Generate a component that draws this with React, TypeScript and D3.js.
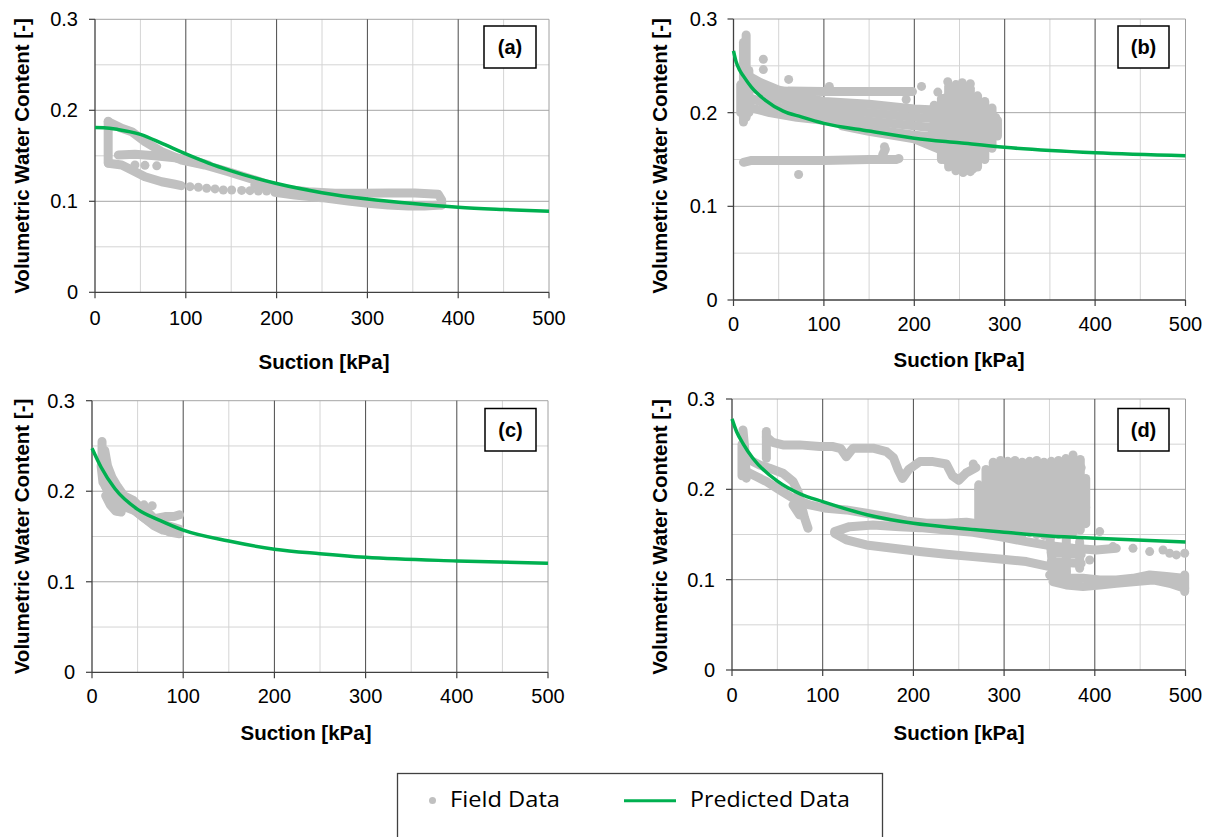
import React from 'react';
import * as d3 from 'd3';

type Pt = [number, number];

// ---------- axis / text content ----------
const xTickValues = [0, 100, 200, 300, 400, 500];
const xMinorValues = [50, 150, 250, 350, 450];
const yTickValues = [0, 0.1, 0.2, 0.3];
const yTickLabels = ['0', '0.1', '0.2', '0.3'];
const yMinorValues = [0.05, 0.15, 0.25];
const panelTags = ['(a)', '(b)', '(c)', '(d)'];
const xTitle = 'Suction [kPa]';
const yTitle = 'Volumetric Water Content [-]';
const legendLabels = ['Field Data', 'Predicted Data'];

// ---------- predicted curves [suction kPa, VWC] ----------
const predictedA: Pt[] = [
  [0, 0.181], [10, 0.1808], [25, 0.179], [50, 0.1735], [75, 0.163], [100, 0.152], [125, 0.142],
  [150, 0.1335], [175, 0.126], [200, 0.1195], [250, 0.1095], [300, 0.1025], [350, 0.0975],
  [400, 0.0935], [450, 0.091], [500, 0.089],
];
const predictedB: Pt[] = [
  [0, 0.266], [3, 0.254], [7, 0.245], [11, 0.239], [20, 0.227], [35, 0.2135], [55, 0.2017],
  [75, 0.1955], [100, 0.1886], [150, 0.1804], [200, 0.1728], [250, 0.1678], [300, 0.163],
  [400, 0.1572], [500, 0.154],
];
const predictedC: Pt[] = [
  [0, 0.2475], [10, 0.2265], [25, 0.203], [50, 0.18], [75, 0.1675], [100, 0.157], [150, 0.145],
  [200, 0.136], [250, 0.131], [300, 0.127], [400, 0.123], [500, 0.1205],
];
const predictedD: Pt[] = [
  [0, 0.278], [5, 0.264], [12, 0.251], [23, 0.2344], [50, 0.209], [75, 0.195], [100, 0.1864],
  [150, 0.1716], [200, 0.1624], [250, 0.157], [300, 0.1525], [350, 0.1484], [400, 0.1458],
  [500, 0.1418],
];

// ---------- field data (dense measurement traces + isolated readings) ----------
const fieldTracksA: Pt[][] = [
  [[14.5, 0.188], [14.5, 0.142]],
  [[14.7, 0.1418], [29.4, 0.1399], [40.4, 0.1344], [55, 0.127], [73.4, 0.1215], [88, 0.1187], [95, 0.1172]],
  [[198, 0.1099], [220, 0.1069], [249.6, 0.104], [279, 0.1003], [301, 0.0978], [323, 0.0959], [345, 0.0948], [363, 0.0948], [381.8, 0.0959]],
  [[176, 0.1179], [205.6, 0.1135], [235, 0.1105], [264.3, 0.1088], [293.7, 0.1088], [323, 0.1092], [352.4, 0.1092], [378, 0.1077], [381.8, 0.1014], [381.8, 0.0959]],
  [[14.7, 0.1875], [29.4, 0.1802], [40.4, 0.1765], [55, 0.1655], [73.4, 0.1545], [95.4, 0.1454], [121, 0.1399], [146.8, 0.1325], [176, 0.1234], [198, 0.116]],
  [[25.7, 0.1509], [44, 0.1516], [66, 0.1501], [88, 0.1479], [110, 0.1443], [124.8, 0.1399]],
];
const fieldDotsA: Pt[] = [
  [104.6, 0.1161], [113.8, 0.1154], [123, 0.1143], [132.2, 0.1136], [141.3, 0.1124], [150.5, 0.1124],
  [161.5, 0.112], [170.7, 0.1117], [179.9, 0.1113], [189, 0.1113], [44, 0.14], [55, 0.1395], [68, 0.139],
];

const fieldTracksB: Pt[][] = [
  [[11, 0.275], [11, 0.19]],
  [[14, 0.283], [14, 0.195]],
  [[17, 0.245], [17, 0.2]],
  [[8, 0.23], [8, 0.2]],
  [[11, 0.147], [20, 0.149], [50, 0.149], [100, 0.149], [150, 0.15], [180, 0.15], [183, 0.151]],
  [[165, 0.155], [168, 0.161]],
  [[37, 0.224], [60, 0.223], [100, 0.2225], [150, 0.2225], [198, 0.2225]],
  [[15, 0.24], [30, 0.232], [50, 0.224], [75, 0.217], [100, 0.212], [150, 0.209], [200, 0.204], [240, 0.202]],
  [[18, 0.228], [40, 0.218], [70, 0.21], [100, 0.205], [150, 0.2], [200, 0.195], [250, 0.192], [290, 0.19]],
  [[20, 0.215], [45, 0.207], [70, 0.201], [100, 0.197], [150, 0.191], [200, 0.186], [250, 0.181], [290, 0.18]],
  [[20, 0.205], [40, 0.2], [70, 0.195], [100, 0.192], [150, 0.183], [200, 0.176], [250, 0.172], [285, 0.17]],
  [[120, 0.186], [150, 0.18], [200, 0.172], [230, 0.16], [250, 0.15], [265, 0.14]],
  [[222, 0.208], [222, 0.165]],
  [[230, 0.215], [230, 0.15]],
  [[238, 0.228], [238, 0.142]],
  [[246, 0.23], [246, 0.138]],
  [[254, 0.228], [254, 0.136]],
  [[262, 0.226], [262, 0.137]],
  [[270, 0.218], [270, 0.142]],
  [[278, 0.212], [278, 0.15]],
  [[286, 0.205], [286, 0.162]],
  [[292, 0.192], [292, 0.175]],
  [[215, 0.196], [250, 0.2], [290, 0.195]],
  [[220, 0.18], [260, 0.182], [292, 0.18]],
  [[226, 0.165], [255, 0.163], [285, 0.168]],
  [[233, 0.15], [255, 0.146], [272, 0.15]],
  [[232, 0.215], [250, 0.22], [268, 0.214]],
];
const fieldDotsB: Pt[] = [
  [72, 0.134], [33, 0.257], [33, 0.246], [61, 0.2355], [106, 0.228], [208, 0.228], [191, 0.214],
  [167, 0.1636], [237, 0.233], [253, 0.232], [262, 0.231], [226, 0.222],
];

const fieldTracksC: Pt[][] = [
  [[11, 0.255], [11, 0.235], [12, 0.22], [15, 0.205], [20, 0.195], [25, 0.185], [28, 0.178]],
  [[14, 0.245], [17, 0.228], [22, 0.215], [28, 0.205], [35, 0.195], [45, 0.19], [50, 0.185], [60, 0.178], [70, 0.168], [80, 0.163], [90, 0.16], [96, 0.158]],
  [[10, 0.228], [12, 0.21], [18, 0.2], [23, 0.19]],
  [[35, 0.185], [45, 0.18], [55, 0.172], [65, 0.165], [75, 0.16], [85, 0.155], [96, 0.153]],
  [[70, 0.17], [80, 0.172], [90, 0.172], [96, 0.174]],
  [[13, 0.235], [16, 0.215], [20, 0.205], [26, 0.198], [32, 0.192], [40, 0.19]],
  [[25, 0.192], [30, 0.185], [38, 0.182], [48, 0.178], [58, 0.17], [68, 0.162], [78, 0.157], [90, 0.155]],
  [[15, 0.195], [20, 0.185], [26, 0.178], [32, 0.177]],
];
const fieldDotsC: Pt[] = [[57, 0.185], [66, 0.184], [60, 0.178]];

const fieldTracksD: Pt[][] = [
  [[12.1, 0.2658], [14, 0.2455], [15.8, 0.2123]],
  [[11, 0.25], [11, 0.215]],
  [[37.9, 0.264], [37.9, 0.2344]],
  [[37.9, 0.258], [45, 0.252], [56.2, 0.2492], [74.6, 0.2492], [96.6, 0.2473], [111.4, 0.2473], [120, 0.245], [126, 0.236], [133.4, 0.2455], [155.5, 0.2455], [170.2, 0.2418], [178, 0.235], [183, 0.222], [188, 0.212], [195, 0.222], [207, 0.2307], [221.6, 0.2307], [236.3, 0.228], [243, 0.215], [250, 0.21], [258, 0.218], [269, 0.224]],
  [[15.8, 0.2344], [30.5, 0.227], [41.5, 0.2233], [56.2, 0.2178], [67.3, 0.2086], [72.8, 0.1975], [76.4, 0.1827], [80.1, 0.168], [83.8, 0.1569]],
  [[67.3, 0.1827], [74.6, 0.1717]],
  [[15.8, 0.2196], [26.8, 0.2141], [37.9, 0.2086], [52.5, 0.1993], [67.3, 0.1901], [85.6, 0.1827], [104, 0.179], [126, 0.1772], [148.1, 0.1735], [170.2, 0.1698], [192.2, 0.165], [214.3, 0.1624], [236.3, 0.1624], [258.4, 0.1635], [280.4, 0.1606]],
  [[113.2, 0.1514], [126.1, 0.144], [148.1, 0.1384], [177.5, 0.1347], [206.9, 0.1311], [236.3, 0.1281], [265.7, 0.1255], [295.1, 0.1229], [324.5, 0.12], [350.2, 0.1144], [368.6, 0.1089]],
  [[113.2, 0.1532], [129.7, 0.1587], [155.5, 0.1606], [184.9, 0.1587], [206.9, 0.1576], [236.3, 0.155], [265.7, 0.1525], [295.1, 0.1477], [324.5, 0.1421], [350.2, 0.1377], [375.9, 0.1347], [401.7, 0.1329], [423.7, 0.1347]],
  [[350.2, 0.1052], [368.6, 0.1015], [387, 0.1015], [405.4, 0.0997], [423.7, 0.0997], [442.1, 0.1015], [460.5, 0.1052], [478.9, 0.1034], [497.3, 0.1015]],
  [[353.9, 0.0978], [368.6, 0.0941], [387, 0.0923], [405.4, 0.0941], [423.7, 0.096], [442.1, 0.0978], [464.2, 0.0997], [482.5, 0.096], [499.1, 0.0905]],
  [[499.1, 0.1052], [499.1, 0.0868]],
  [[350.2, 0.1495], [353.9, 0.1089]],
  [[368.6, 0.1458], [368.6, 0.1052]],
  [[383.3, 0.1421], [383.3, 0.1126]],
  [[352, 0.13], [385, 0.128]],
  [[352, 0.12], [385, 0.118]],
  [[272, 0.205], [272, 0.162]],
  [[280, 0.222], [280, 0.156]],
  [[288, 0.23], [288, 0.152]],
  [[296, 0.232], [296, 0.15]],
  [[304, 0.231], [304, 0.152]],
  [[312, 0.232], [312, 0.15]],
  [[320, 0.23], [320, 0.15]],
  [[328, 0.231], [328, 0.152]],
  [[336, 0.232], [336, 0.15]],
  [[344, 0.23], [344, 0.149]],
  [[352, 0.231], [352, 0.148]],
  [[360, 0.232], [360, 0.15]],
  [[368, 0.234], [368, 0.15]],
  [[376, 0.238], [376, 0.152]],
  [[384, 0.233], [384, 0.155]],
  [[390, 0.212], [390, 0.162]],
  [[290, 0.224], [330, 0.226], [385, 0.224]],
  [[272, 0.2], [330, 0.202], [388, 0.2]],
  [[275, 0.18], [330, 0.182], [390, 0.18]],
  [[275, 0.165], [330, 0.163], [388, 0.166]],
];
const fieldDotsD: Pt[] = [
  [442.1, 0.1347], [460.5, 0.1311], [475.2, 0.1329], [482.5, 0.1292], [489.9, 0.1274], [499.1, 0.1292],
  [420, 0.1366], [405.4, 0.1532], [394.3, 0.1218], [266, 0.228],
];

// ---------- layout (pixels) ----------
const layouts = [
  { x0: 95, x1: 549, top: 19.3, bottom: 292.3, yTitleX: 28.5, yTitleY: 156, xTitleX: 324, xTitleY: 361.5, xTickDy: 26, yTickDx: 17, box: [484, 26, 52, 42] },
  { x0: 733.5, x1: 1185.5, top: 19, bottom: 300, yTitleX: 666.5, yTitleY: 156, xTitleX: 959, xTitleY: 359, xTickDy: 24, yTickDx: 16, box: [1118, 26, 51, 42] },
  { x0: 92, x1: 548, top: 400.7, bottom: 672.3, yTitleX: 28.5, yTitleY: 536.5, xTitleX: 306, xTitleY: 732, xTickDy: 23.5, yTickDx: 17, box: [485, 408.5, 51, 42.5] },
  { x0: 732, x1: 1185.5, top: 399, bottom: 670, yTitleX: 667, yTitleY: 537, xTitleX: 959, xTitleY: 732.5, xTickDy: 25, yTickDx: 17, box: [1118, 408.5, 51, 42.5] },
];

const panelsData = [
  { pred: predictedA, tracks: fieldTracksA, dots: fieldDotsA },
  { pred: predictedB, tracks: fieldTracksB, dots: fieldDotsB },
  { pred: predictedC, tracks: fieldTracksC, dots: fieldDotsC },
  { pred: predictedD, tracks: fieldTracksD, dots: fieldDotsD },
];

const FIELD = '#c0c0c0';
const GREEN = '#00b050';
const FONT = '"Liberation Sans", Arial, Helvetica, sans-serif';

function Panel({ idx }: { idx: number }) {
  const L = layouts[idx];
  const D = panelsData[idx];
  const x = d3.scaleLinear().domain([0, 500]).range([L.x0, L.x1]);
  const y = d3.scaleLinear().domain([0, 0.3]).range([L.bottom, L.top]);
  const track = d3.line<Pt>().x((d) => x(d[0])).y((d) => y(d[1]));
  const curve = d3.line<Pt>().x((d) => x(d[0])).y((d) => y(d[1])).curve(d3.curveMonotoneX);
  const [bx, by, bw, bh] = L.box;
  return (
    <g>
      {yMinorValues.map((v) => (
        <line key={'ym' + v} x1={L.x0} x2={L.x1} y1={y(v)} y2={y(v)} stroke="#d4d4d4" strokeWidth={1} />
      ))}
      {xMinorValues.map((v) => (
        <line key={'xm' + v} x1={x(v)} x2={x(v)} y1={L.top} y2={L.bottom} stroke="#d4d4d4" strokeWidth={1} />
      ))}
      {yTickValues.slice(1).map((v) => (
        <line key={'yM' + v} x1={L.x0} x2={L.x1} y1={y(v)} y2={y(v)} stroke="#a6a6a6" strokeWidth={1} />
      ))}
      {xTickValues.slice(1).map((v) => (
        <line key={'xM' + v} x1={x(v)} x2={x(v)} y1={L.top} y2={L.bottom} stroke={v === 500 ? '#a0a0a0' : '#4a4a4a'} strokeWidth={1} />
      ))}
      <line x1={L.x0} x2={L.x0} y1={L.top} y2={L.bottom} stroke="#404040" strokeWidth={1.3} />
      <line x1={L.x0} x2={L.x1} y1={L.bottom} y2={L.bottom} stroke="#404040" strokeWidth={1.3} />
      {yTickValues.map((v) => (
        <line key={'yt' + v} x1={L.x0 - 6} x2={L.x0} y1={y(v)} y2={y(v)} stroke="#404040" strokeWidth={1.2} />
      ))}
      {xTickValues.map((v) => (
        <line key={'xt' + v} x1={x(v)} x2={x(v)} y1={L.bottom} y2={L.bottom + 6} stroke="#404040" strokeWidth={1.2} />
      ))}
      {D.tracks.map((t, i) => (
        <path key={'tr' + i} d={track(t) || ''} fill="none" stroke={FIELD} strokeWidth={9} strokeLinecap="round" strokeLinejoin="round" />
      ))}
      {D.dots.map((p, i) => (
        <circle key={'dt' + i} cx={x(p[0])} cy={y(p[1])} r={4.5} fill={FIELD} />
      ))}
      <path d={curve(D.pred) || ''} fill="none" stroke={GREEN} strokeWidth={3.5} />
      {yTickValues.map((v, i) => (
        <text key={'yl' + v} x={L.x0 - L.yTickDx} y={y(v)} textAnchor="end" dominantBaseline="central" fontFamily={FONT} fontSize={20} fill="#000">
          {yTickLabels[i]}
        </text>
      ))}
      {xTickValues.map((v) => (
        <text key={'xl' + v} x={x(v)} y={L.bottom + L.xTickDy} textAnchor="middle" dominantBaseline="central" fontFamily={FONT} fontSize={20} fill="#000">
          {String(v)}
        </text>
      ))}
      <text x={L.xTitleX} y={L.xTitleY} textAnchor="middle" dominantBaseline="central" fontFamily={FONT} fontWeight="bold" fontSize={20.5} fill="#000">
        {xTitle}
      </text>
      <text transform={`translate(${L.yTitleX},${L.yTitleY}) rotate(-90)`} textAnchor="middle" fontFamily={FONT} fontWeight="bold" fontSize={20.5} fill="#000">
        {yTitle}
      </text>
      <rect x={bx} y={by} width={bw} height={bh} fill="#fff" stroke="#000" strokeWidth={1.5} />
      <text x={bx + bw / 2} y={by + bh / 2} textAnchor="middle" dominantBaseline="central" fontFamily={FONT} fontWeight="bold" fontSize={20} fill="#000">
        {panelTags[idx]}
      </text>
    </g>
  );
}

export default function App() {
  return (
    <svg width={1212} height={837} style={{ position: 'absolute', left: 0, top: 0, background: '#fff' }}>
      <rect x={0} y={0} width={1212} height={837} fill="#fff" />
      {layouts.map((_, i) => (
        <Panel key={i} idx={i} />
      ))}
      <rect x={397.5} y={773.5} width={485} height={80} fill="#fff" stroke="#404040" strokeWidth={1.3} />
      <circle cx={432.5} cy={800.5} r={3.5} fill={FIELD} />
      <text x={450} y={807} fontFamily='"Open Sans", "Noto Sans", sans-serif' fontSize={21} textLength={110} lengthAdjust="spacingAndGlyphs" fill="#000">
        {legendLabels[0]}
      </text>
      <line x1={624} x2={676} y1={800.7} y2={800.7} stroke={GREEN} strokeWidth={3} />
      <text x={690} y={807} fontFamily='"Open Sans", "Noto Sans", sans-serif' fontSize={21} textLength={160} lengthAdjust="spacingAndGlyphs" fill="#000">
        {legendLabels[1]}
      </text>
    </svg>
  );
}
